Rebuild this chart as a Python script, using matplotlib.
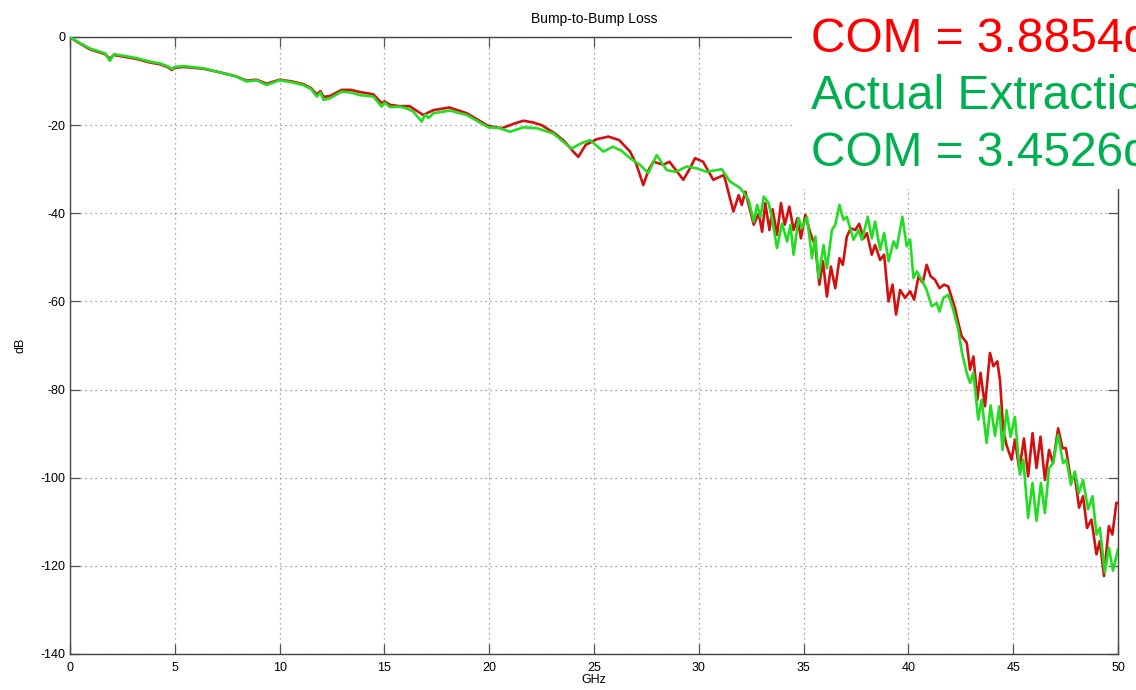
import matplotlib
matplotlib.use("Agg")
import matplotlib.pyplot as plt
from matplotlib.patches import Rectangle

plt.rcParams['font.family'] = ['Liberation Sans', 'DejaVu Sans']
plt.rcParams['axes.unicode_minus'] = False

# COM fitted model (red): GHz / dB
f_red = [0, 0.3, 0.95, 1.67, 1.9, 2.1, 2.6, 3.18, 3.82, 4.3, 4.69, 4.85, 5.0, 5.41,
         6.36, 7.31, 7.9, 8.43, 8.9, 9.38, 10.0, 10.6, 11.13, 11.5, 11.77, 11.95,
         12.1, 12.4, 12.96, 13.4, 13.84, 14.47, 14.87, 15.0, 15.27, 15.74, 16.2,
         16.85, 17.34, 18.1, 18.93, 19.96, 20.6, 21.23, 21.63, 22.1, 22.5, 23.14,
         23.62, 24.01, 24.25, 24.6, 25.13, 25.69, 26.2, 26.72, 27.03, 27.35, 27.6,
         27.83, 28.31, 28.6, 29.26, 29.58, 29.82, 30.2, 30.69, 31.2, 31.65, 31.9,
         32.05, 32.22, 32.62, 32.86, 33.02, 33.17, 33.37, 33.52, 33.73, 33.92,
         34.1, 34.32, 34.52, 34.71, 34.87, 35.08, 35.32, 35.56, 35.75, 35.92,
         36.11, 36.3, 36.51, 36.71, 36.87, 37.06, 37.25, 37.46, 37.65, 37.86,
         38.02, 38.25, 38.41, 38.65, 38.84, 39.05, 39.24, 39.41, 39.6, 39.84,
         40.08, 40.27, 40.48, 40.68, 40.87, 41.06, 41.27, 41.48, 41.7, 41.9,
         42.22, 42.38, 42.54, 42.78, 42.94, 43.1, 43.29, 43.44, 43.65, 43.89,
         44.05, 44.24, 44.37, 44.52, 44.68, 44.92, 45.08, 45.29, 45.51, 45.71,
         45.92, 46.11, 46.3, 46.51, 46.71, 46.9, 47.14, 47.35, 47.51, 47.75,
         47.94, 48.14, 48.33, 48.52, 48.73, 48.97, 49.13, 49.33, 49.56, 49.73,
         49.92, 50.0]
db_red = [0, -1.0, -2.8, -3.9, -4.9, -4.1, -4.5, -5.0, -5.8, -6.2, -6.9, -7.5, -7.0, -6.8,
          -7.2, -8.2, -8.9, -9.9, -9.7, -10.6, -9.7, -10.1, -10.7, -11.6, -13.0, -12.3,
          -13.6, -13.4, -12.0, -12.0, -12.5, -13.0, -15.0, -14.6, -15.4, -15.7, -15.7,
          -17.7, -16.6, -16.0, -17.3, -20.2, -20.7, -19.6, -19.0, -19.4, -20.0, -21.9,
          -23.8, -26.0, -27.2, -24.5, -23.2, -22.6, -23.4, -26.0, -29.0, -33.6, -30.2,
          -28.3, -29.0, -28.3, -32.4, -29.8, -27.5, -28.3, -32.4, -31.3, -39.6, -35.9,
          -38.1, -35.1, -42.6, -40.0, -44.2, -37.7, -43.8, -39.1, -44.9, -37.7,
          -42.6, -38.5, -43.8, -41.1, -45.7, -40.4, -44.5, -47.5, -56.2, -50.9,
          -58.9, -52.1, -57.0, -50.2, -51.7, -45.3, -43.4, -43.8, -42.4, -45.7,
          -44.5, -49.4, -47.2, -50.6, -49.4, -60.0, -56.2, -63.0, -57.4, -59.2,
          -57.7, -59.6, -54.3, -55.8, -51.7, -54.3, -55.1, -57.0, -56.2, -56.6,
          -61.5, -64.9, -67.9, -69.4, -75.5, -72.5, -82.3, -76.2, -83.8, -71.7,
          -74.7, -73.6, -78.0, -89.2, -92.6, -95.9, -91.4, -98.2, -91.1, -99.7,
          -89.9, -97.8, -90.7, -100.5, -93.7, -96.7, -88.8, -93.3, -93.3, -100.5,
          -99.7, -106.8, -104.2, -111.4, -109.5, -117.4, -114.4, -122.3, -111.0, -112.9,
          -105.7, -105.7]

# actual extraction (green)
f_green = [0, 0.3, 0.95, 1.67, 1.9, 2.1, 2.6, 3.18, 3.82, 4.3, 4.69, 4.85, 5.0, 5.41,
           6.36, 7.31, 7.9, 8.43, 8.9, 9.38, 10.0, 10.6, 11.13, 11.5, 11.77, 11.95,
           12.1, 12.4, 12.96, 13.4, 13.84, 14.47, 14.87, 15.0, 15.27, 15.74, 16.06,
           16.37, 16.78, 16.95, 17.1, 17.34, 18.13, 18.93, 19.96, 20.5, 20.99, 21.63,
           22.27, 23.06, 23.54, 23.93, 24.4, 24.81, 25.45, 25.9, 26.3, 26.72, 27.19,
           27.59, 27.99, 28.47, 28.9, 29.42, 29.9, 30.38, 31.09, 31.49, 31.98, 32.38,
           32.62, 32.78, 32.94, 33.1, 33.33, 33.49, 33.73, 33.97, 34.21, 34.37,
           34.52, 34.76, 34.92, 35.16, 35.4, 35.56, 35.71, 35.95, 36.11, 36.35,
           36.51, 36.71, 36.9, 37.06, 37.38, 37.62, 37.78, 38.06, 38.25, 38.41,
           38.65, 38.84, 39.05, 39.29, 39.44, 39.71, 39.92, 40.08, 40.24, 40.4,
           40.63, 40.87, 41.11, 41.35, 41.48, 41.67, 41.9, 42.14, 42.38, 42.54,
           42.78, 42.94, 43.1, 43.33, 43.49, 43.73, 43.92, 44.13, 44.33, 44.49,
           44.68, 44.87, 45.08, 45.32, 45.48, 45.71, 45.92, 46.11, 46.32, 46.51,
           46.71, 46.9, 47.14, 47.38, 47.54, 47.75, 47.94, 48.13, 48.33, 48.57,
           48.78, 48.97, 49.13, 49.37, 49.56, 49.76, 50.0]
db_green = [0, -0.9, -2.6, -3.7, -5.4, -3.9, -4.3, -4.8, -5.6, -6.0, -6.7, -7.3, -6.8, -6.6,
            -7.1, -8.2, -8.9, -10.1, -9.8, -10.9, -9.8, -10.3, -10.9, -11.8, -13.5, -12.6,
            -14.3, -13.9, -12.4, -12.6, -13.2, -13.5, -15.8, -14.9, -15.9, -15.8, -16.2,
            -16.9, -19.2, -17.6, -18.4, -17.3, -16.7, -17.7, -20.5, -20.7, -21.5, -20.5,
            -20.7, -21.9, -23.8, -25.3, -24.1, -23.4, -26.0, -24.9, -25.8, -27.5, -29.0,
            -30.9, -26.8, -30.2, -30.6, -29.4, -29.8, -30.6, -30.0, -32.8, -34.3, -37.0,
            -41.9, -38.1, -40.8, -36.2, -37.7, -41.1, -47.9, -42.3, -46.4, -42.6,
            -49.4, -41.1, -43.4, -40.8, -50.2, -45.3, -54.7, -47.2, -52.5, -43.8,
            -42.6, -38.1, -41.5, -40.8, -46.0, -43.8, -46.0, -40.8, -45.7, -41.9,
            -48.3, -44.5, -50.9, -46.4, -47.9, -40.8, -47.5, -46.0, -54.7, -53.2,
            -55.1, -57.4, -61.1, -60.4, -62.3, -59.2, -58.5, -61.9, -66.4, -71.3,
            -76.2, -78.5, -76.2, -86.8, -82.3, -92.1, -83.6, -90.5, -83.8, -93.7,
            -84.7, -90.7, -86.2, -99.3, -95.9, -109.1, -101.2, -109.8, -101.2, -108.0,
            -97.8, -96.7, -90.3, -96.7, -95.9, -101.6, -98.6, -103.5, -100.5, -107.2,
            -104.2, -112.9, -111.4, -121.5, -115.9, -121.1, -116.2]

x_ticks = [0, 5, 10, 15, 20, 25, 30, 35, 40, 45, 50]
y_ticks = [0, -20, -40, -60, -80, -100, -120, -140]

fig = plt.figure(figsize=(11.36, 6.90), dpi=100)
ax = fig.add_axes([0.0616, 0.0522, 0.9226, 0.8942])

ax.plot(f_red, db_red, color='#d40f0f', lw=1.9, zorder=3)
ax.plot(f_green, db_green, color='#22dd22', lw=1.9, zorder=4)

ax.set_xlim(0, 50)
ax.set_ylim(-140, 0)
ax.set_xticks(x_ticks)
ax.set_yticks(y_ticks)
ax.tick_params(direction='in', length=7, width=0.9, top=True, right=True,
               labelsize=9, colors='#555555', labelcolor='black')
ax.tick_params(axis='x', pad=6)
ax.tick_params(axis='y', pad=3)
ax.grid(True, linestyle=(0, (1, 3)), color='#888888', lw=0.9)
for s in ax.spines.values():
    s.set_color('#444444')
    s.set_linewidth(1)

ax.set_xlabel('GHz', fontsize=9, labelpad=0)
ax.set_ylabel('dB', fontsize=9, labelpad=10)
ax.set_title('Bump-to-Bump Loss', fontsize=10, pad=10)

# white label block in the top right corner
fig.patches.append(Rectangle((792 / 1136, 1 - 189 / 690), 1, 1, transform=fig.transFigure,
                             facecolor='white', edgecolor='none', zorder=5))
tx = 811 / 1136
fig.text(tx, 1 - 52 / 690, 'COM = 3.8854dB', color='#ff0000', fontsize=34.5,
         va='baseline', ha='left', zorder=6)
fig.text(tx, 1 - 109 / 690, 'Actual Extraction', color='#00b050', fontsize=34.5,
         va='baseline', ha='left', zorder=6)
fig.text(tx, 1 - 166 / 690, 'COM = 3.4526dB', color='#00b050', fontsize=34.5,
         va='baseline', ha='left', zorder=6)

fig.savefig('out.png', dpi=100)
